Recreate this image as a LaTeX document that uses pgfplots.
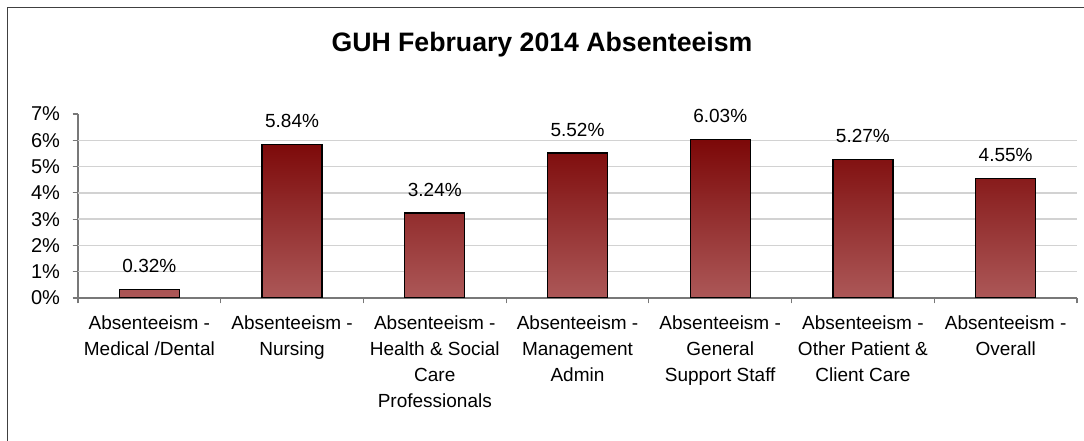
\documentclass[border=0pt]{standalone}
\usepackage{fontspec}
\setmainfont{Liberation Sans}
\usepackage{pgfplots}
\pgfplotsset{compat=1.18}
\definecolor{bartop}{RGB}{124,8,8}
\definecolor{barbot}{RGB}{172,88,88}
\definecolor{gridgray}{RGB}{210,210,210}
\definecolor{axisgray}{RGB}{120,120,120}
\begin{document}
\begin{tikzpicture}
\path[use as bounding box] (0,0) rectangle (813pt,330.75pt);
\begin{scope}
\clip (0,0) rectangle (813pt,330.75pt);
\draw[line width=1.4pt, black!75] (5.6pt,-20pt) rectangle (830pt,325.1pt);
\end{scope}
\node[anchor=base, font=\bfseries\fontsize{20}{24}\selectfont] at (406.5pt,291.75pt) {GUH February 2014 Absenteeism};
\begin{axis}[at={(58.5pt,107.25pt)}, anchor=south west, scale only axis,
  width=749.25pt, height=138pt,
  ybar, bar width=0.42,
  xmin=-0.5, xmax=6.5, ymin=0, ymax=7,
  axis lines*=left,
  axis line style={axisgray, line width=0.8pt},
  tick align=outside,
  /pgf/number format/assume math mode=true,
  xtick={0,...,6},
  xticklabels={{Absenteeism -\\Medical /Dental},{Absenteeism -\\Nursing},{Absenteeism -\\Health \& Social\\Care\\Professionals},{Absenteeism -\\Management\\Admin},{Absenteeism -\\General\\Support Staff},{Absenteeism -\\Other Patient \&\\Client Care},{Absenteeism -\\Overall}},
  x tick label style={align=center, anchor=north, yshift=-6pt, font=\fontsize{14.25}{19.5}\selectfont},
  major x tick style={draw=none},
  minor xtick={-0.5,0.5,1.5,2.5,3.5,4.5,5.5,6.5},
  minor x tick style={axisgray, line width=0.8pt},
  minor tick length=4pt,
  major tick length=4pt,
  ytick={0,...,7},
  yticklabels={0\%,1\%,2\%,3\%,4\%,5\%,6\%,7\%},
  y tick label style={font=\fontsize{15}{17}\selectfont, xshift=-6pt},
  y tick style={axisgray, line width=0.8pt},
  extra y ticks={1,...,6},
  extra y tick labels={},
  extra y tick style={grid=major},
  grid style={gridgray, line width=1pt},
  nodes near coords={\pgfmathprintnumber[fixed,fixed zerofill,precision=2]{\pgfplotspointmeta}\%},
  every node near coord/.append style={font=\fontsize{14.25}{17}\selectfont, anchor=base, yshift=12.5pt},
]
\addplot[ybar, draw=black, line width=1pt, top color=bartop, bottom color=barbot]
  coordinates {(0,0.32) (1,5.84) (2,3.24) (3,5.52) (4,6.03) (5,5.27) (6,4.55)};
\end{axis}
\end{tikzpicture}
\end{document}
